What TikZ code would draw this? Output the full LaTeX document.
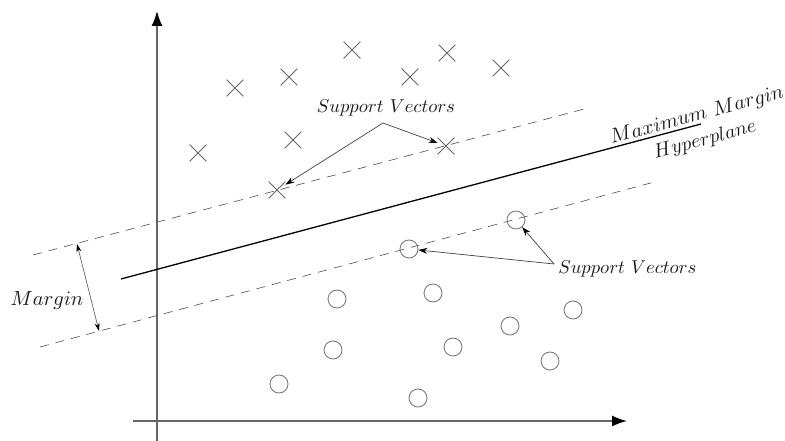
\documentclass[tikz,border=0pt]{standalone}
\usetikzlibrary{shapes.misc,arrows.meta}
\begin{document}
\begin{tikzpicture}[x=1pt,y=-1pt,
  axis/.style={draw=black!60,line width=1.6pt,-{Latex[length=15pt,width=11pt,color=black]}},
  xmark/.style={cross out,draw=black!60,line width=0.8pt,minimum size=16pt,inner sep=0pt},
  omark/.style={circle,draw=black!55,line width=0.8pt,minimum size=18pt,inner sep=0pt},
  margin/.style={draw=black!70,line width=0.6pt,dash pattern=on 9pt off 7pt},
  hyper/.style={draw=black,line width=1.3pt},
  pointer/.style={draw=black!75,line width=0.7pt,-{Stealth[length=9pt,width=6pt,color=black]}},
  dimarrow/.style={draw=black!60,line width=0.7pt,{Stealth[length=8pt,width=5pt,color=black]}-{Stealth[length=8pt,width=5pt,color=black]}},
  lbl/.style={scale=2.05,transform shape,inner sep=0.5pt,text=black!90},
  svlbl/.style={lbl,scale=0.91}]
\useasboundingbox (0,0) rectangle (785,441);
% axes
\coordinate (xs) at (133,421);
\coordinate (xe) at (627,421);
\coordinate (ys) at (157,441);
\coordinate (ye) at (157,11);
\draw[axis] (xs) -- (xe);
\draw[axis] (ys) -- (ye);
% margin lines and hyperplane
\coordinate (u1) at (33,255);
\coordinate (u2) at (588,108);
\coordinate (l1) at (40,347);
\coordinate (l2) at (658,181);
\coordinate (h1) at (121,279);
\coordinate (h2) at (701,124);
\path[margin] (u1) -- (u2);
\path[margin] (l1) -- (l2);
\path[hyper] (h1) -- (h2);
% crosses
\node[xmark] (c1) at (352,50) {};
\node[xmark] (c2) at (447,53) {};
\node[xmark] (c3) at (235,88) {};
\node[xmark] (c4) at (289,77) {};
\node[xmark] (c5) at (410,77) {};
\node[xmark] (c6) at (501,68) {};
\node[xmark] (c7) at (198,153) {};
\node[xmark] (c8) at (293,140) {};
\node[xmark] (c9) at (446,146) {};
\node[xmark] (c10) at (277,190) {};
% circles
\node[omark] (o1) at (516,220) {};
\node[omark] (o2) at (409,249) {};
\node[omark] (o3) at (337,299) {};
\node[omark] (o4) at (433,293) {};
\node[omark] (o5) at (573,310) {};
\node[omark] (o6) at (510,326) {};
\node[omark] (o7) at (333,350) {};
\node[omark] (o8) at (453,347) {};
\node[omark] (o9) at (550,361) {};
\node[omark] (o10) at (279,384) {};
\node[omark] (o11) at (418,398) {};
% labels
\node[svlbl] (sv1) at (386,108) {$Support\ Vectors$};
\node[svlbl,anchor=west] (sv2) at (557,269) {$Support\ Vectors$};
\node[lbl] (mg) at (47,300) {$Margin$};
\node[lbl,rotate=15] (mm) at (697,116) {$Maximum\ Margin$};
\node[lbl,rotate=15,scale=0.97] (hp) at (705,140) {$Hyperplane$};
\coordinate (sv1a) at (383,123);
\coordinate (sv2a) at (554,264);
\draw[pointer] (sv1a) -- (c9);
\draw[pointer] (sv1a) -- (c10);
\draw[pointer] (sv2a) -- (o2);
\draw[pointer] (sv2a) -- (o1);
% margin dimension
\coordinate (m1) at (77,244);
\coordinate (m2) at (99,331);
\draw[dimarrow] (m1) -- (m2);
\end{tikzpicture}
\end{document}
